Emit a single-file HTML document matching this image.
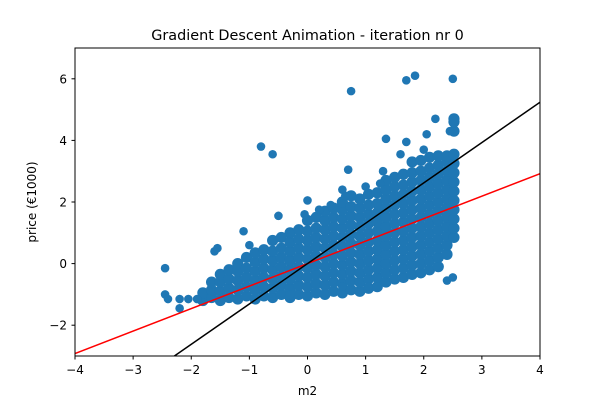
<!DOCTYPE html>
<html><head><meta charset="utf-8"><style>
html,body{margin:0;background:#fff;width:600px;height:400px;overflow:hidden}
svg{display:block;font-family:"DejaVu Sans","Liberation Sans",sans-serif}
</style></head><body>
<svg id="chart" width="600" height="400">
<rect width="600" height="400" fill="#fff"/>
<text x="307.5" y="40" font-size="14.4" text-anchor="middle">Gradient Descent Animation - iteration nr 0</text>
<defs><clipPath id="clip"><rect x="75" y="48" width="465" height="308"/></clipPath></defs>
<g id="points" clip-path="url(#clip)"></g>
<g id="lines" clip-path="url(#clip)"></g>
<rect x="75" y="48" width="465" height="308" fill="none" stroke="#000" stroke-width="1"/>
<g id="axes"></g>
<text x="307.5" y="395" font-size="12" text-anchor="middle">m2</text>
<text transform="translate(36,202) rotate(-90)" font-size="12" text-anchor="middle">price (€1000)</text>
</svg>
<script>
const xTicks=[-4,-3,-2,-1,0,1,2,3,4];
const yTicks=[-2,0,2,4,6];
const redLine=[0,0.73];
const blackLine=[0,1.31];
const cols=[
[-1.8,[-1.2,-0.95]],[-1.65,[-1.1,-0.85,-0.6]],[-1.5,[-1.2,-0.9,-0.6,-0.35]],[-1.35,[-1.1,-0.8,-0.5,-0.2]],
[-1.2,[-1.15,-0.85,-0.55,-0.25,0.0]],[-1.05,[-1.05,-0.75,-0.45,-0.15,0.2]],[-0.9,[-1.15,-0.85,-0.55,-0.25,0.05,0.35]],
[-0.75,[-1.05,-0.75,-0.45,-0.15,0.15,0.45]],[-0.6,[-1.1,-0.8,-0.5,-0.2,0.1,0.4,0.75]],[-0.45,[-1.0,-0.7,-0.4,-0.1,0.2,0.5,0.85]],
[-0.3,[-1.1,-0.8,-0.5,-0.2,0.1,0.4,0.7,1.0]],[-0.15,[-1.0,-0.7,-0.4,-0.1,0.2,0.5,0.8,1.1]],
[0,[-1.05,-0.75,-0.45,-0.15,0.15,0.45,0.75,1.05,1.4]],[0.15,[-0.95,-0.65,-0.35,-0.05,0.25,0.55,0.85,1.15,1.5]],
[0.3,[-1.0,-0.7,-0.4,-0.1,0.2,0.5,0.8,1.1,1.4,1.7]],[0.45,[-0.9,-0.6,-0.3,0,0.3,0.6,0.9,1.2,1.5,1.8]],
[0.6,[-0.95,-0.65,-0.35,-0.05,0.25,0.55,0.85,1.15,1.45,1.75,2.0]],[0.75,[-0.85,-0.55,-0.25,0.05,0.35,0.65,0.95,1.25,1.55,1.85,2.2]],
[0.9,[-0.9,-0.6,-0.3,0,0.3,0.6,0.9,1.2,1.5,1.8,2.1]],[1.05,[-0.8,-0.5,-0.2,0.1,0.4,0.7,1.0,1.3,1.6,1.9,2.25]],
[1.2,[-0.75,-0.45,-0.15,0.15,0.45,0.75,1.05,1.35,1.65,1.95,2.3]],[1.35,[-0.6,-0.3,0,0.3,0.6,0.9,1.2,1.5,1.8,2.1,2.4,2.7]],
[1.5,[-0.5,-0.2,0.1,0.4,0.7,1.0,1.3,1.6,1.9,2.2,2.5,2.8]],[1.65,[-0.45,-0.15,0.15,0.45,0.75,1.05,1.35,1.65,1.95,2.25,2.55,2.9]],
[1.8,[-0.35,-0.05,0.25,0.55,0.85,1.15,1.45,1.75,2.05,2.35,2.65,2.95,3.3]],[1.95,[-0.3,0,0.3,0.6,0.9,1.2,1.5,1.8,2.1,2.4,2.7,3.0,3.35]],
[2.1,[-0.2,0.1,0.4,0.7,1.0,1.3,1.6,1.9,2.2,2.5,2.8,3.1,3.45]],[2.25,[-0.1,0.2,0.5,0.8,1.1,1.4,1.7,2.0,2.3,2.6,2.9,3.2,3.5]],
[2.4,[0.3,0.6,0.9,1.2,1.5,1.8,2.1,2.4,2.7,3.0,3.3,3.5]],[2.52,[0.85,1.15,1.45,1.75,2.05,2.35,2.65,2.95,3.25,3.55,4.3,4.6,4.7]]
];
const outliers=[[-2.45,-0.15],[-2.45,-1.0],[-2.4,-1.15],[-2.2,-1.15],[-2.2,-1.45],[-2.05,-1.15],[-1.9,-1.15],[-1.6,0.4],[-1.55,0.5],[-1.1,1.05],[-1.0,0.6],[-0.8,3.8],[-0.6,3.55],[-0.5,1.55],[-0.3,1.0],[-0.05,1.6],[0,2.05],[0.2,1.75],[0.4,1.9],[0.6,2.4],[0.65,2.2],[0.7,3.05],[0.75,5.6],[1.0,2.5],[1.25,2.6],[1.3,3.0],[1.35,4.05],[1.6,3.55],[1.7,3.95],[1.7,5.95],[1.85,6.1],[2.05,4.2],[2.0,3.7],[2.5,6.0],[2.4,-0.55],[2.5,-0.45],[0.6,-0.75],[1.05,-0.75],[-0.3,-1.0],[2.2,4.7],[2.45,4.3]];
const NS="http://www.w3.org/2000/svg";
const X=v=>75+(v+4)*465/8;
const Y=v=>356-(v+3)*30.8;
const pg=document.getElementById('points');
function dot(x,y,r){const c=document.createElementNS(NS,'circle');
c.setAttribute('cx',X(x));c.setAttribute('cy',Y(y));c.setAttribute('r',r);c.setAttribute('fill','#1f77b4');


pg.appendChild(c);}
cols.forEach(([x,ys])=>ys.forEach(y=>dot(x,y,5.6)));
outliers.forEach(([x,y])=>dot(x,y,4.3));
const lg=document.getElementById('lines');
function line(w,color,name){const l=document.createElementNS(NS,'line');
l.setAttribute('x1',X(-4));l.setAttribute('y1',Y(w[0]+w[1]*-4));l.setAttribute('x2',X(4));l.setAttribute('y2',Y(w[0]+w[1]*4));
l.setAttribute('stroke',color);l.setAttribute('stroke-width',1.5);


lg.appendChild(l);}
line(redLine,'#ff0000','red-fit-line');
line(blackLine,'#000000','black-fit-line');
const ag=document.getElementById('axes');
xTicks.forEach(t=>{const x=X(t);
const l=document.createElementNS(NS,'line');l.setAttribute('x1',x);l.setAttribute('x2',x);l.setAttribute('y1',356);l.setAttribute('y2',359.5);l.setAttribute('stroke','#000');


ag.appendChild(l);
const tx=document.createElementNS(NS,'text');tx.setAttribute('x',x);tx.setAttribute('y',374);tx.setAttribute('font-size','12');tx.setAttribute('text-anchor','middle');
tx.textContent=(t<0?'\u2212':'')+Math.abs(t);


ag.appendChild(tx);});
yTicks.forEach(t=>{const y=Y(t);
const l=document.createElementNS(NS,'line');l.setAttribute('x1',71.5);l.setAttribute('x2',75);l.setAttribute('y1',y);l.setAttribute('y2',y);l.setAttribute('stroke','#000');


ag.appendChild(l);
const tx=document.createElementNS(NS,'text');tx.setAttribute('x',67);tx.setAttribute('y',y+4.5);tx.setAttribute('font-size','12');tx.setAttribute('text-anchor','end');
tx.textContent=(t<0?'\u2212':'')+Math.abs(t);


ag.appendChild(tx);});
</script>
</body></html>
